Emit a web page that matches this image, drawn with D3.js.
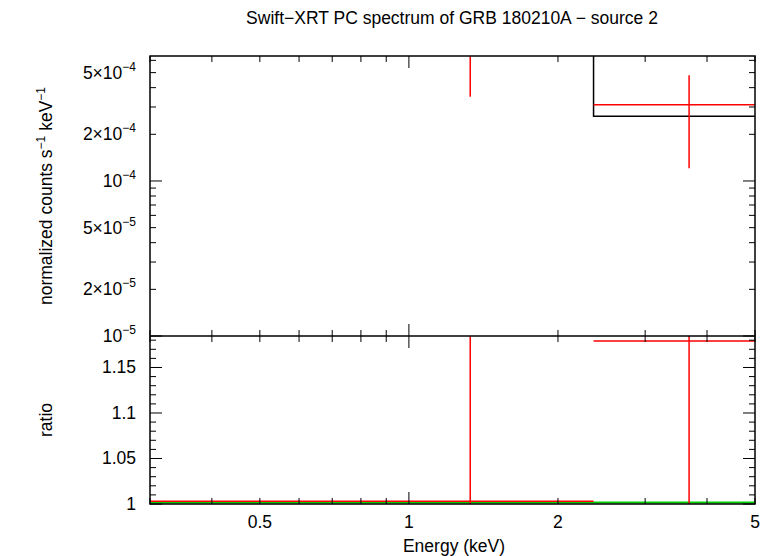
<!DOCTYPE html>
<html><head><meta charset="utf-8">
<script src="https://cdn.jsdelivr.net/npm/d3@7"></script>
<style>body{margin:0;background:#fff}text{font-family:"Liberation Sans",Arial,sans-serif}</style>
</head><body><svg id="c" width="773" height="556"></svg>
<script>
// data
const binLo = [0.3, 2.36];
const binHi = [2.36, 5.0];
const binE = [1.33, 3.68];
const rate = [9.0e-4, 3.1e-4];
const rateLo = [3.5e-4, 1.21e-4];
const rateHi = [2.0e-3, 4.8e-4];
const model = [1.2e-3, 2.62e-4];
const ratio = [1.003, 1.179];
const ratioLo = [0.9, 0.9];
const ratioHi = [1.3, 1.3];
const xTicks = [0.5, 1, 2, 5];
const yTicks = [1e-5, 2e-5, 5e-5, 1e-4, 2e-4, 5e-4];
const yTickLabels = ["10^-5","2×10^-5","5×10^-5","10^-4","2×10^-4","5×10^-4"];
const rTicks = [1, 1.05, 1.1, 1.15];

const svg = d3.select("#c");
const L=150,R=755,T=56,M=336,B=504;
const FS=17.5;
const x = d3.scaleLog().domain([0.3,5]).range([L,R]);
const y = d3.scaleLog().domain([1e-5,6.4e-4]).range([M,T]);
const yr = d3.scaleLinear().domain([1,1.1846]).range([B,M]);

const defs=svg.append("defs");
defs.append("clipPath").attr("id","cp1").append("rect").attr("x",L).attr("y",T).attr("width",R-L).attr("height",M-T);
defs.append("clipPath").attr("id","cp2").append("rect").attr("x",L).attr("y",M).attr("width",R-L).attr("height",B-M);

const g1=svg.append("g").attr("clip-path","url(#cp1)");
const g2=svg.append("g").attr("clip-path","url(#cp2)");
const line=(g,x1,y1,x2,y2,c,w)=>g.append("line").attr("x1",x1).attr("y1",y1).attr("x2",x2).attr("y2",y2).attr("stroke",c).attr("stroke-width",w||1.5);

// model step
const mp=d3.path();
binLo.forEach((lo,i)=>{const yy=y(model[i]); if(i===0) mp.moveTo(x(lo),yy); else mp.lineTo(x(lo),yy); mp.lineTo(x(binHi[i]),yy);});
g1.append("path").attr("d",mp.toString()).attr("fill","none").attr("stroke","#000").attr("stroke-width",1.5);
binE.forEach((e,i)=>{
  line(g1,x(binLo[i]),y(rate[i]),x(binHi[i]),y(rate[i]),"red");
  line(g1,x(e),y(rateLo[i]),x(e),y(rateHi[i]),"red");
});
line(g2,L,yr(1)-1.5,R,yr(1)-1.5,"#00d000",2);
binE.forEach((e,i)=>{
  line(g2,x(binLo[i]),yr(ratio[i]),x(binHi[i]),yr(ratio[i]),"red");
  line(g2,x(e),yr(ratioLo[i]),x(e),yr(ratioHi[i]),"red");
});

// frames
svg.append("rect").attr("x",L).attr("y",T).attr("width",R-L).attr("height",B-T).attr("fill","none").attr("stroke","#000").attr("stroke-width",1.5);
line(svg,L,M,R,M,"#000",1.5);

// x ticks
const minorX=[0.3,0.4,0.5,0.6,0.7,0.8,0.9,1,2,3,4,5];
[T,M,B].forEach(yy=>{
  minorX.forEach(v=>{const len=(v===1)?12:6; const xx=x(v);
    if(yy!==T) line(svg,xx,yy,xx,yy-len,"#000",1);
    if(yy!==B) line(svg,xx,yy,xx,yy+len,"#000",1);
  });
});
xTicks.forEach(v=>svg.append("text").attr("x",x(v)).attr("y",528).attr("text-anchor","middle").attr("font-size",FS).text(v));

// y ticks top
const minorY=[];
for(let d=1e-5;d<1e-3;d*=10) for(let k=1;k<10;k++){const v=k*d; if(v<=6.4e-4) minorY.push(v);}
minorY.forEach(v=>{const len=(Math.abs(Math.log10(v)%1)<1e-9)?12:6;
  line(svg,L,y(v),L+len,y(v),"#000",1); line(svg,R,y(v),R-len,y(v),"#000",1);});
yTickLabels.forEach((s,i)=>{
  const [m,e]=s.split("^");
  const t=svg.append("text").attr("x",136).attr("y",y(yTicks[i])+6).attr("text-anchor","end").attr("font-size",FS);
  t.append("tspan").text(m);
  t.append("tspan").attr("dy",-8).attr("font-size",12).text(e.replace("-","−"));
});
// ratio ticks
for(let k=0;k<=18;k++){const v=1+k*0.01; const len=(k%5===0)?12:6;
  line(svg,L,yr(v),L+len,yr(v),"#000",1); line(svg,R,yr(v),R-len,yr(v),"#000",1);}
rTicks.forEach(v=>svg.append("text").attr("x",136).attr("y",yr(v)+6).attr("text-anchor","end").attr("font-size",FS).text(v));

// labels
svg.append("text").attr("x",452).attr("y",24).attr("text-anchor","middle").attr("font-size",FS).text("Swift−XRT PC spectrum of GRB 180210A − source 2");
svg.append("text").attr("x",454).attr("y",552).attr("text-anchor","middle").attr("font-size",FS).text("Energy (keV)");
const yl=svg.append("text").attr("transform","translate(52,196) rotate(-90)").attr("text-anchor","middle").attr("font-size",FS);
yl.append("tspan").text("normalized counts s");
yl.append("tspan").attr("dy",-7).attr("font-size",12).text("−1");
yl.append("tspan").attr("dy",7).text(" keV");
yl.append("tspan").attr("dy",-7).attr("font-size",12).text("−1");
svg.append("text").attr("transform","translate(52,420) rotate(-90)").attr("text-anchor","middle").attr("font-size",FS).text("ratio");
</script></body></html>
